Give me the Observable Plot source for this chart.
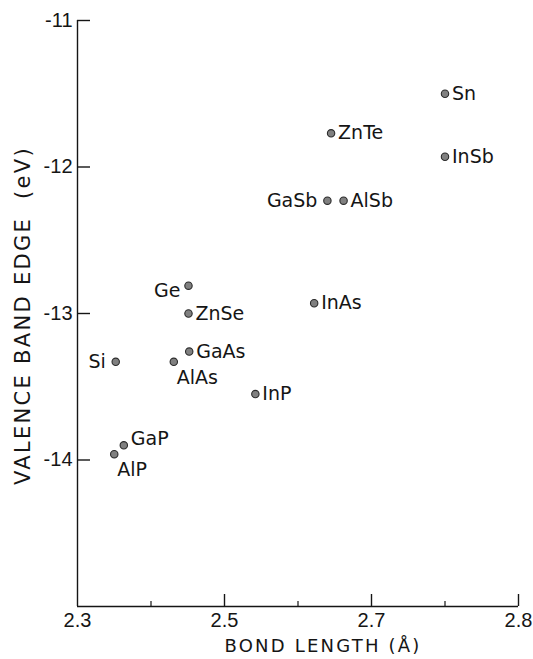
<!DOCTYPE html>
<html>
<head>
<meta charset="utf-8">
<script src="https://cdn.jsdelivr.net/npm/d3@7"></script>
<script src="https://cdn.jsdelivr.net/npm/@observablehq/plot@0.6"></script>
<style>
  html, body { margin: 0; padding: 0; background: #fff; }
</style>
</head>
<body>
<div id="chart"></div>
<script>
// Data
const materials = ["Sn", "InSb", "ZnTe", "GaSb", "AlSb", "InAs", "Ge", "ZnSe", "GaAs", "AlAs", "Si", "InP", "GaP", "AlP"];
const bondLength = [2.80, 2.80, 2.645, 2.640, 2.662, 2.622, 2.451, 2.451, 2.452, 2.431, 2.352, 2.542, 2.363, 2.350];
const valenceEdge = [-11.50, -11.93, -11.77, -12.23, -12.23, -12.93, -12.81, -13.00, -13.26, -13.33, -13.33, -13.55, -13.90, -13.96];
const labelSide = ["r", "r", "r", "l", "r", "r", "ld", "r", "r", "b", "l", "r", "ru", "b"];

const xTickValues = [2.3, 2.5, 2.7, 2.9];
const xTickLabels = ["2.3", "2.5", "2.7", "2.8"];
const xMinorTicks = [2.4, 2.6, 2.8];
const yTickValues = [-11, -12, -13, -14];
const yTickLabels = ["-11", "-12", "-13", "-14"];

const xTitle = "BOND LENGTH (Å)";
const yTitle = "VALENCE BAND EDGE\u00a0\u00a0(eV)";

const rows = materials.map((m, i) => ({name: m, x: bondLength[i], y: valenceEdge[i], side: labelSide[i]}));

const sideStyle = {
  r:  {textAnchor: "start", dx: 7,  dy: 0},
  ru: {textAnchor: "start", dx: 7,  dy: -6},
  l:  {textAnchor: "end",   dx: -10, dy: 0},
  ld: {textAnchor: "end",   dx: -8, dy: 5},
  b:  {textAnchor: "start", dx: 3,  dy: 16}
};

const ink = "#151515";
const labelFont = "DejaVu Sans";
const tickFont = "Liberation Sans";

const labelMarks = Object.entries(sideStyle).map(([side, s]) =>
  Plot.text(rows.filter(d => d.side === side), {
    x: "x", y: "y", text: "name",
    textAnchor: s.textAnchor, dx: s.dx, dy: s.dy,
    fontSize: 19, fontFamily: labelFont, fill: ink
  })
);

const chart = Plot.plot({
  width: 533,
  height: 659,
  marginLeft: 77,
  marginRight: 15,
  marginTop: 20,
  marginBottom: 53,
  x: {domain: [2.3, 2.9]},
  y: {domain: [-15, -11]},
  style: {background: "#fff", color: ink, fontFamily: labelFont},
  marks: [
    // axis lines
    Plot.ruleX([2.3], {stroke: ink, strokeWidth: 1.4}),
    Plot.ruleY([-15], {stroke: ink, strokeWidth: 1.4}),
    // y ticks (inward) and labels
    Plot.axisY({ticks: yTickValues, tickSize: -13, text: null, label: null, stroke: ink, strokeWidth: 1.4}),
    Plot.axisY({ticks: yTickValues, tickSize: 0, tickPadding: 5, label: null,
      tickFormat: d => yTickLabels[yTickValues.indexOf(d)],
      fontSize: 20, fontFamily: tickFont, fill: ink}),
    // x ticks (inward), minor ticks and labels
    Plot.axisX({ticks: xTickValues.slice(1), tickSize: -12, text: null, label: null, stroke: ink, strokeWidth: 1.4}),
    Plot.axisX({ticks: xMinorTicks, tickSize: -5, text: null, label: null, stroke: ink, strokeWidth: 1.2}),
    Plot.axisX({ticks: xTickValues, tickSize: 0, tickPadding: 6, label: null,
      tickFormat: d => xTickLabels[xTickValues.indexOf(d)],
      fontSize: 20, fontFamily: tickFont, fill: ink}),
    // axis titles
    Plot.text([xTitle], {frameAnchor: "bottom", textAnchor: "middle", lineAnchor: "middle", dx: 25, dy: 40,
      fontSize: 18, fontFamily: labelFont, fill: ink}),
    Plot.text([yTitle], {frameAnchor: "left", textAnchor: "middle", lineAnchor: "middle", rotate: -90, dx: -54, dy: 2,
      fontSize: 21, fontFamily: labelFont, fill: ink}),
    // points
    Plot.dot(rows, {x: "x", y: "y", r: 3.7, fill: "#808080", stroke: "#2a2a2a", strokeWidth: 1.1}),
    ...labelMarks
  ]
});

// letter spacing for the wide-set axis titles
d3.select(chart).selectAll("text").each(function () {
  const t = this.textContent;
  if (t === xTitle) d3.select(this).style("letter-spacing", "2.2px");
  if (t === yTitle) d3.select(this).style("letter-spacing", "2.3px");
});

document.getElementById("chart").append(chart);
</script>
</body>
</html>
